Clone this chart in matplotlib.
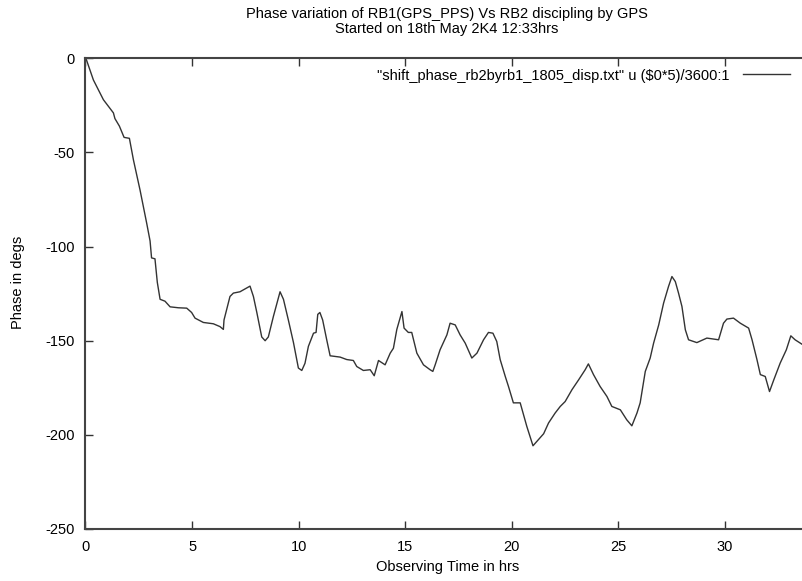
import matplotlib
matplotlib.use("Agg")
import matplotlib.pyplot as plt

hours = [0.0, 0.05, 0.37, 0.84, 1.31, 1.38, 1.59, 1.81, 2.06, 2.25, 2.56, 2.87, 3.03, 3.1, 3.26,
         3.37, 3.5, 3.73, 3.97, 4.36, 4.75, 4.98, 5.14, 5.53, 6.0, 6.31, 6.47, 6.5, 6.78, 6.94,
         7.25, 7.57, 7.72, 7.88, 8.04, 8.27, 8.43, 8.58, 8.82, 9.13, 9.29, 9.52, 9.76, 9.99,
         10.15, 10.3, 10.46, 10.7, 10.82, 10.9, 11.0, 11.13, 11.32, 11.48, 11.95, 12.26, 12.57,
         12.73, 13.04, 13.36, 13.55, 13.75, 14.06, 14.3, 14.45, 14.61, 14.85, 14.95, 15.15,
         15.31, 15.55, 15.86, 16.17, 16.3, 16.41, 16.64, 16.96, 17.11, 17.35, 17.58, 17.82,
         18.13, 18.37, 18.68, 18.91, 19.12, 19.3, 19.46, 19.7, 19.85, 20.08, 20.4, 20.71, 21.0,
         21.18, 21.5, 21.73, 22.04, 22.28, 22.51, 22.83, 23.14, 23.45, 23.6, 23.84, 24.15,
         24.47, 24.7, 25.1, 25.4, 25.64, 25.88, 26.03, 26.27, 26.5, 26.66, 26.9, 27.13, 27.36,
         27.52, 27.68, 27.83, 27.99, 28.15, 28.3, 28.69, 29.16, 29.71, 29.94, 30.1, 30.41,
         30.73, 31.12, 31.28, 31.51, 31.67, 31.9, 32.1, 32.3, 32.6, 32.89, 33.1, 33.3, 33.67, 34.0]
phase = [0.0, -1.0, -11.5, -22.0, -29.0, -32.0, -36.0, -42.0, -42.5, -54.0, -70.0, -87.5, -97.0,
         -106.0, -106.5, -119.0, -128.0, -129.0, -132.0, -132.5, -132.7, -135.0, -138.0, -140.3,
         -141.0, -142.5, -144.0, -139.0, -126.5, -124.7, -124.0, -122.0, -121.0, -126.5, -135.0,
         -148.0, -150.0, -148.0, -137.0, -124.0, -128.0, -139.0, -151.0, -164.5, -165.8, -162.0,
         -153.0, -146.0, -145.6, -136.0, -135.0, -139.0, -149.5, -158.0, -158.7, -160.0, -160.5,
         -163.7, -165.8, -165.4, -168.6, -160.5, -162.8, -156.6, -154.0, -144.0, -134.5, -143.3,
         -145.6, -145.6, -156.6, -162.8, -165.4, -166.3, -162.8, -154.8, -146.9, -140.7, -141.6,
         -146.9, -151.3, -159.2, -156.6, -149.5, -145.6, -146.0, -150.4, -160.0, -169.0, -174.3,
         -183.0, -183.0, -195.5, -205.8, -203.5, -199.4, -193.7, -188.4, -184.9, -182.3, -176.0,
         -170.8, -165.4, -162.3, -168.0, -174.3, -179.6, -184.9, -186.7, -192.0, -195.2, -188.4,
         -183.0, -166.3, -159.2, -151.3, -141.6, -130.0, -121.2, -115.9, -118.6, -124.7, -131.8,
         -144.2, -149.5, -151.0, -148.6, -149.5, -140.7, -138.5, -138.0, -140.7, -143.3, -149.5,
         -160.0, -168.0, -169.0, -177.0, -170.8, -161.9, -154.8, -147.4, -149.5, -152.2, -153.0]

xticks = [0, 5, 10, 15, 20, 25, 30]
yticks = [0, -50, -100, -150, -200, -250]

plt.rcParams['font.family'] = ['Liberation Sans', 'DejaVu Sans']

fig = plt.figure(figsize=(8.03, 5.81), dpi=100)
W, H = 803, 581
left_px, right_px, top_px, bot_px = 85.5, 810.0, 58.3, 529.0
ax = fig.add_axes([left_px / W, 1 - bot_px / H, (right_px - left_px) / W, (bot_px - top_px) / H])

ax.plot(hours, phase, color='#333333', linewidth=1.0,
        label='"shift_phase_rb2byrb1_1805_disp.txt" u ($0*5)/3600:1')
ax.set_xlim(0, 34)
ax.set_ylim(-250, 0)
ax.set_xticks(xticks)
ax.set_yticks(yticks)
ax.set_xticklabels([str(t) for t in xticks])
ax.set_yticklabels([str(t) for t in yticks])
ax.tick_params(direction='in', length=6, width=1, top=True, right=True,
               labelsize=10.5, pad=8, color='#333333')
for s in ax.spines.values():
    s.set_color('#444444')
    s.set_linewidth(1.5)

leg = ax.legend(loc='upper right', bbox_to_anchor=((800 - left_px) / (right_px - left_px), 1.0),
                frameon=False, fontsize=10.5, handlelength=3.2, markerfirst=False,
                borderaxespad=0.3, handletextpad=0.9)

fig.text(447, H - 14, "Phase variation of RB1(GPS_PPS) Vs RB2 discipling by GPS",
         transform=None, ha='center', va='center', fontsize=10.5)
fig.text(447, H - 29, "Started on 18th May 2K4 12:33hrs",
         transform=None, ha='center', va='center', fontsize=10.5)
ax.set_xlabel("Observing Time in hrs", fontsize=10.5, labelpad=4)
fig.text(18, H - 282, "Phase in degs", transform=None, rotation=90,
         ha='center', va='center', fontsize=10.5)

fig.savefig("out.png", dpi=100, facecolor='white')
